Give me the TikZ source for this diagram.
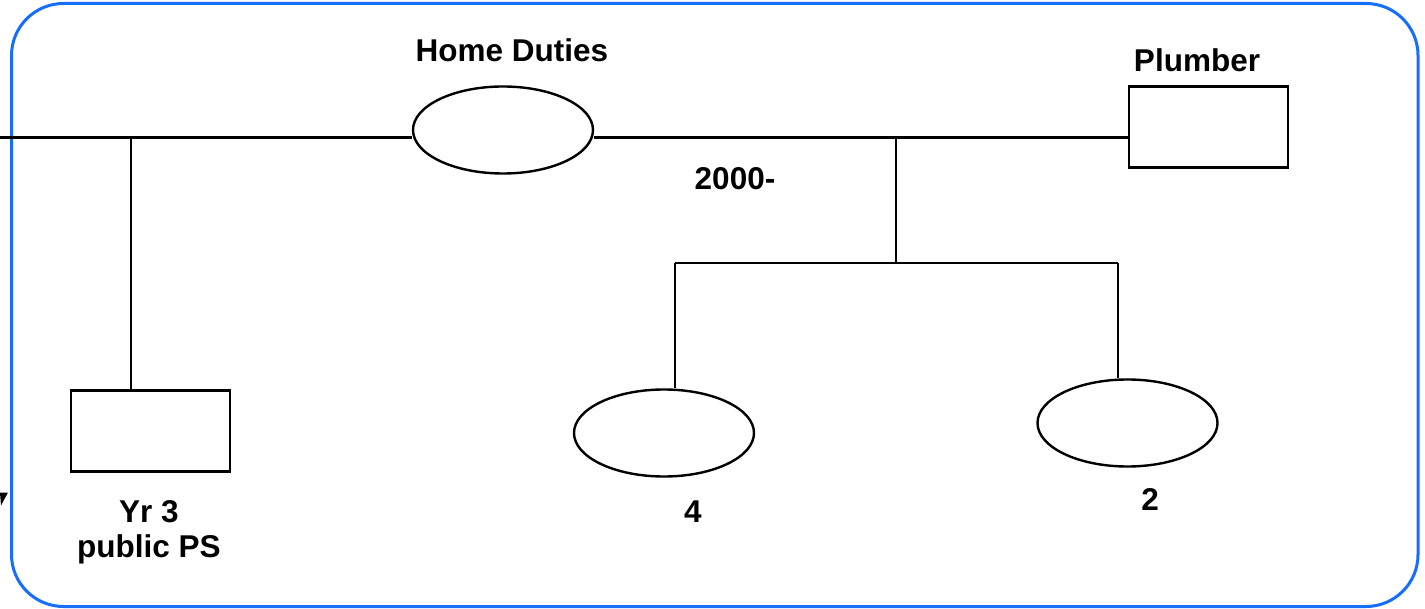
\documentclass[tikz,border=0pt]{standalone}
\usepackage{fontspec}
\setmainfont{Liberation Sans}
\usetikzlibrary{shapes.geometric}
\definecolor{frameblue}{RGB}{22,110,250}
\begin{document}
\begin{tikzpicture}[x=1pt,y=-1pt,
  line width=2.4pt,
  lbl/.style={font=\fontsize{31.5}{35}\selectfont\bfseries, inner sep=0pt, anchor=base, align=center},
  fem/.style={ellipse, draw, fill=white, line width=2.4pt, minimum width=180pt, minimum height=87pt, inner sep=0pt},
  male/.style={rectangle, draw, fill=white, line width=2.6pt, minimum width=159pt, minimum height=81pt, inner sep=0pt},
  link/.style={draw=black, line width=2.4pt}
]
\useasboundingbox (0,0) rectangle (1425,609);
\draw[frameblue, line width=3pt, rounded corners=52pt] (11.5,3.5) rectangle (1418,606.5);

% nodes
\node[fem] (hd) at (503,130) {};
\node[male] (pl) at (1208.5,127) {};
\node[male] (yr) at (150.5,431) {};
\node[fem] (c4) at (664,433) {};
\node[fem] (c2) at (1127.5,423) {};

% labels
\node[lbl] (thd) at (512,62) {Home Duties};
\node[lbl] (tpl) at (1197,72) {Plumber};
\node[lbl] (tyr) at (149,557) {Yr 3\\public PS};
\node[lbl] (tyear) at (735,190) {2000-};
\node[lbl] (t4) at (693,522) {4};
\node[lbl] (t2) at (1150,510) {2};

% coordinates
\coordinate (ls) at (0,137.5);
\coordinate (j1) at (131,137.5);
\coordinate (j2) at (896,137.5);
\coordinate (j3) at (896,263);
\coordinate (bl) at (675,263);
\coordinate (br) at (1118,263);

% connectors
\draw[link] (ls) -- (hd.west |- ls);
\draw[link] (hd.east |- ls) -- (pl.west |- ls);
\draw[link] (j1) -- (j1 |- yr.north);
\draw[link] (j2) -- (j3);
\draw[link] (bl) -- (br);
\draw[link] (bl) -- (bl |- c4.north);
\draw[link] (br) -- (br |- c2.north);

% stray arrow tip at left edge
\fill[black] (0,492.5) -- (8,492.5) -- (1,505.5) -- cycle;
\end{tikzpicture}
\end{document}
